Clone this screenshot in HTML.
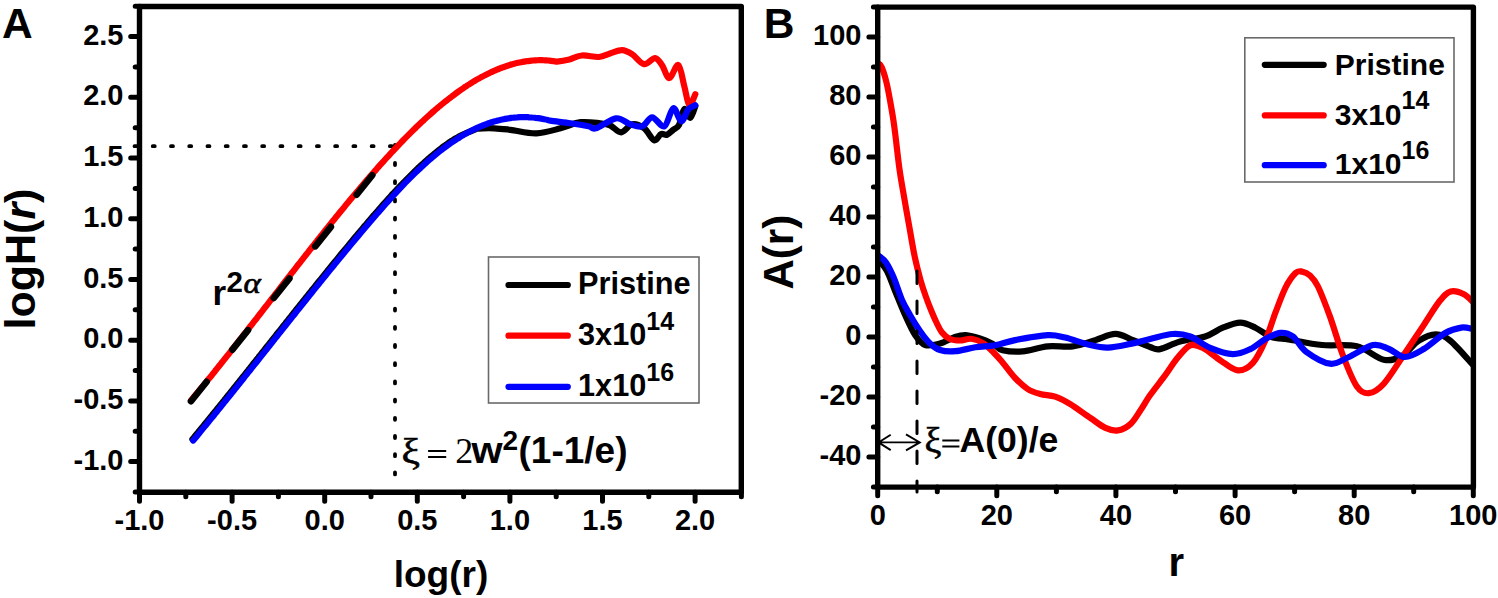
<!DOCTYPE html>
<html><head><meta charset="utf-8"><style>
html,body{margin:0;padding:0;background:#fff;width:1498px;height:598px;overflow:hidden}
svg{display:block}

</style></head><body>
<svg width="1498" height="598" viewBox="0 0 1498 598">
<rect width="1498" height="598" fill="#fff"/>
<text x="2.0" y="38.0" font-size="42.5" text-anchor="start" font-family="'Liberation Sans', sans-serif" font-weight="bold" >A</text>
<text x="763.8" y="37.8" font-size="42.5" text-anchor="start" font-family="'Liberation Sans', sans-serif" font-weight="bold" >B</text>
<text x="123.5" y="44.6" font-size="29.0" text-anchor="end" font-family="'Liberation Sans', sans-serif" font-weight="bold" >2.5</text>
<text x="123.5" y="105.3" font-size="29.0" text-anchor="end" font-family="'Liberation Sans', sans-serif" font-weight="bold" >2.0</text>
<text x="123.5" y="166.0" font-size="29.0" text-anchor="end" font-family="'Liberation Sans', sans-serif" font-weight="bold" >1.5</text>
<text x="123.5" y="226.8" font-size="29.0" text-anchor="end" font-family="'Liberation Sans', sans-serif" font-weight="bold" >1.0</text>
<text x="123.5" y="287.5" font-size="29.0" text-anchor="end" font-family="'Liberation Sans', sans-serif" font-weight="bold" >0.5</text>
<text x="123.5" y="348.2" font-size="29.0" text-anchor="end" font-family="'Liberation Sans', sans-serif" font-weight="bold" >0.0</text>
<text x="123.5" y="408.9" font-size="29.0" text-anchor="end" font-family="'Liberation Sans', sans-serif" font-weight="bold" >-0.5</text>
<text x="123.5" y="469.6" font-size="29.0" text-anchor="end" font-family="'Liberation Sans', sans-serif" font-weight="bold" >-1.0</text>
<text x="139.5" y="529.6" font-size="29.0" text-anchor="middle" font-family="'Liberation Sans', sans-serif" font-weight="bold" >-1.0</text>
<text x="232.1" y="529.6" font-size="29.0" text-anchor="middle" font-family="'Liberation Sans', sans-serif" font-weight="bold" >-0.5</text>
<text x="324.7" y="529.6" font-size="29.0" text-anchor="middle" font-family="'Liberation Sans', sans-serif" font-weight="bold" >0.0</text>
<text x="417.3" y="529.6" font-size="29.0" text-anchor="middle" font-family="'Liberation Sans', sans-serif" font-weight="bold" >0.5</text>
<text x="509.9" y="529.6" font-size="29.0" text-anchor="middle" font-family="'Liberation Sans', sans-serif" font-weight="bold" >1.0</text>
<text x="602.5" y="529.6" font-size="29.0" text-anchor="middle" font-family="'Liberation Sans', sans-serif" font-weight="bold" >1.5</text>
<text x="695.1" y="529.6" font-size="29.0" text-anchor="middle" font-family="'Liberation Sans', sans-serif" font-weight="bold" >2.0</text>
<text x="861.5" y="45.1" font-size="29.0" text-anchor="end" font-family="'Liberation Sans', sans-serif" font-weight="bold" >100</text>
<text x="861.5" y="105.1" font-size="29.0" text-anchor="end" font-family="'Liberation Sans', sans-serif" font-weight="bold" >80</text>
<text x="861.5" y="165.1" font-size="29.0" text-anchor="end" font-family="'Liberation Sans', sans-serif" font-weight="bold" >60</text>
<text x="861.5" y="225.1" font-size="29.0" text-anchor="end" font-family="'Liberation Sans', sans-serif" font-weight="bold" >40</text>
<text x="861.5" y="285.1" font-size="29.0" text-anchor="end" font-family="'Liberation Sans', sans-serif" font-weight="bold" >20</text>
<text x="861.5" y="345.1" font-size="29.0" text-anchor="end" font-family="'Liberation Sans', sans-serif" font-weight="bold" >0</text>
<text x="861.5" y="405.1" font-size="29.0" text-anchor="end" font-family="'Liberation Sans', sans-serif" font-weight="bold" >-20</text>
<text x="861.5" y="465.1" font-size="29.0" text-anchor="end" font-family="'Liberation Sans', sans-serif" font-weight="bold" >-40</text>
<text x="877.7" y="524.5" font-size="29.0" text-anchor="middle" font-family="'Liberation Sans', sans-serif" font-weight="bold" >0</text>
<text x="996.8" y="524.5" font-size="29.0" text-anchor="middle" font-family="'Liberation Sans', sans-serif" font-weight="bold" >20</text>
<text x="1115.9" y="524.5" font-size="29.0" text-anchor="middle" font-family="'Liberation Sans', sans-serif" font-weight="bold" >40</text>
<text x="1235.1" y="524.5" font-size="29.0" text-anchor="middle" font-family="'Liberation Sans', sans-serif" font-weight="bold" >60</text>
<text x="1354.2" y="524.5" font-size="29.0" text-anchor="middle" font-family="'Liberation Sans', sans-serif" font-weight="bold" >80</text>
<text x="1473.3" y="524.5" font-size="29.0" text-anchor="middle" font-family="'Liberation Sans', sans-serif" font-weight="bold" >100</text>
<text transform="translate(35,259) rotate(-90)" font-size="43" text-anchor="middle" font-family="'Liberation Sans', sans-serif" font-weight="bold">logH(<tspan font-style="italic">r</tspan>)</text>
<text transform="translate(793,252.2) rotate(-90)" font-size="42" text-anchor="middle" font-family="'Liberation Sans', sans-serif" font-weight="bold">A(r)</text>
<text x="441.0" y="586.9" font-size="37.0" text-anchor="middle" font-family="'Liberation Sans', sans-serif" font-weight="bold" >log(r)</text>
<text x="1176.3" y="575.7" font-size="40.0" text-anchor="middle" font-family="'Liberation Sans', sans-serif" font-weight="bold" >r</text>
<path d="M135.2,492.0 H139.5 M130.7,461.6 H139.5 M135.2,431.3 H139.5 M130.7,400.9 H139.5 M135.2,370.6 H139.5 M130.7,340.2 H139.5 M135.2,309.8 H139.5 M130.7,279.5 H139.5 M135.2,249.1 H139.5 M130.7,218.8 H139.5 M135.2,188.4 H139.5 M130.7,158.0 H139.5 M135.2,127.7 H139.5 M130.7,97.3 H139.5 M135.2,66.9 H139.5 M130.7,36.6 H139.5 M135.2,6.2 H139.5 M139.5,492.3 V501.2 M185.8,492.3 V496.8 M232.1,492.3 V501.2 M278.4,492.3 V496.8 M324.7,492.3 V501.2 M371.0,492.3 V496.8 M417.3,492.3 V501.2 M463.6,492.3 V496.8 M509.9,492.3 V501.2 M556.2,492.3 V496.8 M602.5,492.3 V501.2 M648.8,492.3 V496.8 M695.1,492.3 V501.2 M741.4,492.3 V496.8" stroke="#000" stroke-width="5.0" stroke-linecap="round" fill="none"/>
<path d="M873.4,487.1 H877.7 M868.9,457.1 H877.7 M873.4,427.1 H877.7 M868.9,397.1 H877.7 M873.4,367.1 H877.7 M868.9,337.1 H877.7 M873.4,307.1 H877.7 M868.9,277.1 H877.7 M873.4,247.1 H877.7 M868.9,217.1 H877.7 M873.4,187.1 H877.7 M868.9,157.1 H877.7 M873.4,127.1 H877.7 M868.9,97.1 H877.7 M873.4,67.1 H877.7 M868.9,37.1 H877.7 M873.4,7.1 H877.7 M877.7,487.1 V495.7 M937.3,487.1 V491.7 M996.8,487.1 V495.7 M1056.4,487.1 V491.7 M1115.9,487.1 V495.7 M1175.5,487.1 V491.7 M1235.1,487.1 V495.7 M1294.6,487.1 V491.7 M1354.2,487.1 V495.7 M1413.7,487.1 V491.7 M1473.3,487.1 V495.7" stroke="#000" stroke-width="5.0" stroke-linecap="round" fill="none"/>
<path d="M134.5,146.2 H398" stroke="#000" stroke-width="3.8" stroke-dasharray="2 16.24" stroke-linecap="round" fill="none"/>
<path d="M395,144.8 V478" stroke="#000" stroke-width="3.8" stroke-dasharray="2 16.2" stroke-linecap="round" fill="none"/>
<path d="M192.4,439.2 C192.9,438.6 194.4,436.8 195.4,435.6 C196.4,434.4 197.4,433.2 198.4,432.0 C199.4,430.7 200.4,429.5 201.4,428.3 C202.4,427.1 203.4,425.9 204.4,424.6 C205.4,423.4 206.4,422.2 207.4,421.0 C208.4,419.7 209.4,418.5 210.4,417.3 C211.4,416.1 212.4,414.8 213.4,413.6 C214.4,412.4 215.4,411.1 216.4,409.9 C217.4,408.7 218.4,407.4 219.4,406.2 C220.4,404.9 221.4,403.7 222.4,402.5 C223.4,401.2 224.4,400.0 225.4,398.7 C226.4,397.5 227.4,396.3 228.4,395.0 C229.4,393.8 230.4,392.5 231.4,391.3 C232.4,390.0 233.4,388.8 234.4,387.5 C235.4,386.3 236.4,385.0 237.4,383.8 C238.4,382.5 239.4,381.3 240.4,380.0 C241.4,378.8 242.4,377.5 243.4,376.2 C244.4,375.0 245.4,373.7 246.4,372.5 C247.4,371.2 248.4,370.0 249.4,368.7 C250.4,367.5 251.4,366.2 252.4,364.9 C253.4,363.7 254.4,362.4 255.4,361.2 C256.4,359.9 257.4,358.6 258.4,357.4 C259.4,356.1 260.4,354.9 261.4,353.6 C262.4,352.3 263.4,351.1 264.4,349.8 C265.4,348.6 266.4,347.3 267.4,346.0 C268.4,344.8 269.4,343.5 270.4,342.3 C271.4,341.0 272.4,339.7 273.4,338.5 C274.4,337.2 275.4,336.0 276.4,334.7 C277.4,333.4 278.4,332.2 279.4,330.9 C280.4,329.7 281.4,328.4 282.4,327.1 C283.4,325.9 284.4,324.6 285.4,323.4 C286.4,322.1 287.4,320.9 288.4,319.6 C289.4,318.3 290.4,317.1 291.4,315.8 C292.4,314.6 293.4,313.3 294.4,312.1 C295.4,310.8 296.4,309.5 297.4,308.3 C298.4,307.0 299.4,305.8 300.4,304.5 C301.4,303.3 302.4,302.0 303.4,300.8 C304.4,299.5 305.4,298.3 306.4,297.0 C307.4,295.8 308.4,294.5 309.4,293.3 C310.4,292.0 311.4,290.8 312.4,289.5 C313.4,288.3 314.4,287.1 315.4,285.8 C316.4,284.6 317.4,283.3 318.4,282.1 C319.4,280.9 320.4,279.6 321.4,278.4 C322.4,277.1 323.4,275.9 324.4,274.7 C325.4,273.4 326.4,272.2 327.4,271.0 C328.4,269.7 329.4,268.5 330.4,267.3 C331.4,266.0 332.4,264.8 333.4,263.6 C334.4,262.4 335.4,261.1 336.4,259.9 C337.4,258.7 338.4,257.5 339.4,256.3 C340.4,255.0 341.4,253.8 342.4,252.6 C343.4,251.4 344.4,250.2 345.4,249.0 C346.4,247.8 347.4,246.6 348.4,245.4 C349.4,244.1 350.4,242.9 351.4,241.7 C352.4,240.5 353.4,239.3 354.4,238.1 C355.4,236.9 356.4,235.8 357.4,234.6 C358.4,233.4 359.4,232.2 360.4,231.0 C361.4,229.8 362.4,228.6 363.4,227.4 C364.4,226.2 365.4,225.1 366.4,223.9 C367.4,222.7 368.4,221.5 369.4,220.4 C370.4,219.2 371.4,218.0 372.4,216.9 C373.4,215.7 374.4,214.6 375.4,213.4 C376.4,212.3 377.4,211.1 378.4,210.0 C379.4,208.8 380.4,207.7 381.4,206.6 C382.4,205.4 383.4,204.3 384.4,203.2 C385.4,202.1 386.4,200.9 387.4,199.8 C388.4,198.7 389.4,197.6 390.4,196.5 C391.4,195.4 392.4,194.3 393.4,193.3 C394.4,192.2 395.4,191.1 396.4,190.0 C397.4,189.0 398.4,187.9 399.4,186.8 C400.4,185.8 401.4,184.7 402.4,183.7 C403.4,182.7 404.4,181.6 405.4,180.6 C406.4,179.6 407.4,178.6 408.4,177.6 C409.4,176.6 410.4,175.6 411.4,174.6 C412.4,173.6 413.4,172.6 414.4,171.6 C415.4,170.7 416.4,169.7 417.4,168.8 C418.4,167.8 419.4,166.9 420.4,165.9 C421.4,165.0 422.4,164.1 423.4,163.2 C424.4,162.3 425.4,161.4 426.4,160.5 C427.4,159.6 428.4,158.7 429.4,157.9 C430.4,157.0 431.4,156.1 432.4,155.3 C433.4,154.5 434.4,153.6 435.4,152.8 C436.4,152.0 437.4,151.2 438.4,150.4 C439.4,149.6 440.4,148.9 441.4,148.1 C442.4,147.3 443.4,146.6 444.4,145.9 C445.4,145.1 446.4,144.4 447.4,143.7 C448.4,143.0 449.4,142.3 450.4,141.7 C451.4,141.0 452.4,140.4 453.4,139.7 C454.4,139.1 455.4,138.5 456.4,137.9 C457.4,137.4 458.4,136.8 459.4,136.3 C460.4,135.8 461.4,135.3 462.4,134.8 C463.4,134.3 464.4,133.9 465.4,133.4 C466.4,133.0 467.4,132.6 468.4,132.2 C469.4,131.8 470.4,131.4 471.4,131.0 C472.4,130.6 473.4,130.2 474.4,129.8 C475.4,129.5 474.1,128.9 477.4,128.7 C480.7,128.4 488.8,128.1 494.3,128.3 C499.8,128.5 503.4,129.0 510.4,129.8 C517.4,130.6 528.0,133.6 536.4,133.3 C544.8,133.1 553.1,130.2 560.5,128.3 C567.9,126.5 574.0,123.0 580.6,122.2 C587.2,121.4 595.2,122.8 600.1,123.3 C605.0,123.8 606.6,123.8 610.1,125.3 C613.6,126.8 617.4,132.5 621.1,132.3 C624.8,132.1 628.4,125.0 632.2,124.3 C636.1,123.6 640.5,125.6 644.2,128.3 C647.9,131.0 651.4,139.4 654.2,140.3 C657.0,141.2 658.9,134.9 661.0,134.0 C663.1,133.1 665.0,135.5 667.0,134.8 C669.0,134.1 671.0,131.6 673.0,130.0 C675.0,128.4 677.1,128.5 679.0,125.0 C680.9,121.5 682.4,110.2 684.3,109.0 C686.2,107.8 688.5,118.3 690.3,117.8 C692.1,117.3 694.5,108.1 695.3,106.2" fill="none" stroke="#000" stroke-width="6.2" stroke-linecap="round" stroke-linejoin="round"/>
<path d="M191.0,400.4 C191.5,399.8 193.0,398.0 194.0,396.8 C195.0,395.6 196.0,394.4 197.0,393.2 C198.0,392.0 199.0,390.8 200.0,389.6 C201.0,388.4 202.0,387.2 203.0,385.9 C204.0,384.7 205.0,383.5 206.0,382.3 C207.0,381.0 208.0,379.8 209.0,378.6 C210.0,377.3 211.0,376.1 212.0,374.9 C213.0,373.6 214.0,372.4 215.0,371.2 C216.0,369.9 217.0,368.7 218.0,367.4 C219.0,366.2 220.0,364.9 221.0,363.7 C222.0,362.4 223.0,361.2 224.0,359.9 C225.0,358.6 226.0,357.4 227.0,356.1 C228.0,354.9 229.0,353.6 230.0,352.3 C231.0,351.1 232.0,349.8 233.0,348.5 C234.0,347.3 235.0,346.0 236.0,344.7 C237.0,343.5 238.0,342.2 239.0,340.9 C240.0,339.6 241.0,338.4 242.0,337.1 C243.0,335.8 244.0,334.5 245.0,333.3 C246.0,332.0 247.0,330.7 248.0,329.4 C249.0,328.1 250.0,326.8 251.0,325.6 C252.0,324.3 253.0,323.0 254.0,321.7 C255.0,320.4 256.0,319.1 257.0,317.9 C258.0,316.6 259.0,315.3 260.0,314.0 C261.0,312.7 262.0,311.4 263.0,310.1 C264.0,308.8 265.0,307.5 266.0,306.3 C267.0,305.0 268.0,303.7 269.0,302.4 C270.0,301.1 271.0,299.8 272.0,298.5 C273.0,297.2 274.0,295.9 275.0,294.6 C276.0,293.4 277.0,292.1 278.0,290.8 C279.0,289.5 280.0,288.2 281.0,286.9 C282.0,285.6 283.0,284.3 284.0,283.0 C285.0,281.8 286.0,280.5 287.0,279.2 C288.0,277.9 289.0,276.6 290.0,275.3 C291.0,274.0 292.0,272.7 293.0,271.5 C294.0,270.2 295.0,268.9 296.0,267.6 C297.0,266.3 298.0,265.0 299.0,263.8 C300.0,262.5 301.0,261.2 302.0,259.9 C303.0,258.7 304.0,257.4 305.0,256.1 C306.0,254.8 307.0,253.6 308.0,252.3 C309.0,251.0 310.0,249.7 311.0,248.5 C312.0,247.2 313.0,245.9 314.0,244.7 C315.0,243.4 316.0,242.1 317.0,240.9 C318.0,239.6 319.0,238.4 320.0,237.1 C321.0,235.8 322.0,234.6 323.0,233.3 C324.0,232.1 325.0,230.8 326.0,229.6 C327.0,228.3 328.0,227.1 329.0,225.8 C330.0,224.6 331.0,223.4 332.0,222.1 C333.0,220.9 334.0,219.6 335.0,218.4 C336.0,217.2 337.0,215.9 338.0,214.7 C339.0,213.5 340.0,212.3 341.0,211.0 C342.0,209.8 343.0,208.6 344.0,207.4 C345.0,206.2 346.0,205.0 347.0,203.7 C348.0,202.5 349.0,201.3 350.0,200.1 C351.0,198.9 352.0,197.7 353.0,196.5 C354.0,195.3 355.0,194.1 356.0,192.9 C357.0,191.8 358.0,190.6 359.0,189.4 C360.0,188.2 361.0,187.0 362.0,185.9 C363.0,184.7 364.0,183.5 365.0,182.3 C366.0,181.2 367.0,180.0 368.0,178.9 C369.0,177.7 370.0,176.5 371.0,175.4 C372.0,174.3 373.0,173.1 374.0,172.0 C375.0,170.8 376.0,169.7 377.0,168.6 C378.0,167.4 379.0,166.3 380.0,165.2 C381.0,164.1 382.0,163.0 383.0,161.9 C384.0,160.7 385.0,159.6 386.0,158.5 C387.0,157.4 388.0,156.4 389.0,155.3 C390.0,154.2 391.0,153.1 392.0,152.0 C393.0,151.0 394.0,149.9 395.0,148.8 C396.0,147.8 397.0,146.7 398.0,145.7 C399.0,144.6 400.0,143.6 401.0,142.5 C402.0,141.5 403.0,140.5 404.0,139.4 C405.0,138.4 406.0,137.4 407.0,136.4 C408.0,135.4 409.0,134.4 410.0,133.4 C411.0,132.4 412.0,131.4 413.0,130.4 C414.0,129.4 415.0,128.5 416.0,127.5 C417.0,126.5 418.0,125.6 419.0,124.6 C420.0,123.7 421.0,122.7 422.0,121.8 C423.0,120.9 424.0,119.9 425.0,119.0 C426.0,118.1 427.0,117.2 428.0,116.3 C429.0,115.4 430.0,114.5 431.0,113.6 C432.0,112.7 433.0,111.8 434.0,111.0 C435.0,110.1 436.0,109.2 437.0,108.4 C438.0,107.5 439.0,106.7 440.0,105.9 C441.0,105.0 442.0,104.2 443.0,103.4 C444.0,102.6 445.0,101.8 446.0,101.0 C447.0,100.2 448.0,99.4 449.0,98.6 C450.0,97.8 451.0,97.1 452.0,96.3 C453.0,95.6 454.0,94.8 455.0,94.1 C456.0,93.3 457.0,92.6 458.0,91.9 C459.0,91.2 460.0,90.5 461.0,89.8 C462.0,89.1 463.0,88.4 464.0,87.7 C465.0,87.0 466.0,86.4 467.0,85.7 C468.0,85.1 469.0,84.4 470.0,83.8 C471.0,83.2 472.0,82.5 473.0,81.9 C474.0,81.3 475.0,80.7 476.0,80.1 C477.0,79.6 478.0,79.0 479.0,78.4 C480.0,77.9 481.0,77.3 482.0,76.8 C483.0,76.2 484.0,75.7 485.0,75.2 C486.0,74.7 487.0,74.2 488.0,73.7 C489.0,73.2 490.0,72.7 491.0,72.2 C492.0,71.8 493.0,71.3 494.0,70.9 C495.0,70.4 496.0,70.0 497.0,69.6 C498.0,69.2 499.0,68.8 500.0,68.4 C501.0,68.0 502.0,67.6 503.0,67.3 C504.0,66.9 505.0,66.5 506.0,66.2 C507.0,65.9 508.0,65.5 509.0,65.2 C510.0,64.9 511.0,64.6 512.0,64.4 C513.0,64.1 514.0,63.8 515.0,63.5 C516.0,63.3 517.0,63.1 518.0,62.8 C519.0,62.6 520.0,62.4 521.0,62.2 C522.0,62.0 523.0,61.8 524.0,61.6 C525.0,61.5 526.0,61.3 527.0,61.2 C528.0,61.0 529.0,60.9 530.0,60.8 C531.0,60.7 532.0,60.6 533.0,60.5 C534.0,60.4 535.0,60.4 536.0,60.3 C537.0,60.3 538.0,60.2 539.0,60.2 C540.0,60.2 541.0,60.2 542.0,60.2 C543.0,60.2 544.0,60.3 545.0,60.3 C546.0,60.4 547.0,60.4 548.0,60.5 C549.0,60.6 550.0,60.7 551.0,60.8 C552.0,60.9 553.0,61.0 554.0,61.2 C555.0,61.3 554.4,61.9 557.0,61.6 C559.6,61.3 565.2,60.4 569.4,59.4 C573.6,58.4 577.1,55.9 582.0,55.5 C586.9,55.1 594.3,57.3 599.0,57.0 C603.7,56.7 606.2,54.6 610.0,53.5 C613.8,52.4 618.3,50.0 622.0,50.1 C625.7,50.2 628.3,51.8 632.0,54.1 C635.7,56.4 640.2,63.4 644.0,64.1 C647.8,64.8 652.0,57.9 655.0,58.1 C658.0,58.3 659.6,61.8 662.0,65.1 C664.4,68.4 666.6,78.1 669.3,78.1 C672.0,78.1 675.8,63.7 678.3,65.1 C680.8,66.4 682.5,79.5 684.3,86.2 C686.1,92.9 687.5,103.9 689.3,105.2 C691.1,106.5 694.3,96.0 695.3,94.2" fill="none" stroke="#f00" stroke-width="6.2" stroke-linecap="round" stroke-linejoin="round"/>
<path d="M193.2,440.5 C193.7,439.9 195.2,438.1 196.2,436.9 C197.2,435.7 198.2,434.5 199.2,433.3 C200.2,432.0 201.2,430.8 202.2,429.6 C203.2,428.4 204.2,427.2 205.2,425.9 C206.2,424.7 207.2,423.5 208.2,422.3 C209.2,421.0 210.2,419.8 211.2,418.6 C212.2,417.4 213.2,416.1 214.2,414.9 C215.2,413.7 216.2,412.4 217.2,411.2 C218.2,410.0 219.2,408.7 220.2,407.5 C221.2,406.2 222.2,405.0 223.2,403.8 C224.2,402.5 225.2,401.3 226.2,400.0 C227.2,398.8 228.2,397.6 229.2,396.3 C230.2,395.1 231.2,393.8 232.2,392.6 C233.2,391.3 234.2,390.1 235.2,388.8 C236.2,387.6 237.2,386.3 238.2,385.1 C239.2,383.8 240.2,382.6 241.2,381.3 C242.2,380.1 243.2,378.8 244.2,377.5 C245.2,376.3 246.2,375.0 247.2,373.8 C248.2,372.5 249.2,371.3 250.2,370.0 C251.2,368.8 252.2,367.5 253.2,366.2 C254.2,365.0 255.2,363.7 256.2,362.5 C257.2,361.2 258.2,359.9 259.2,358.7 C260.2,357.4 261.2,356.2 262.2,354.9 C263.2,353.6 264.2,352.4 265.2,351.1 C266.2,349.9 267.2,348.6 268.2,347.3 C269.2,346.1 270.2,344.8 271.2,343.6 C272.2,342.3 273.2,341.0 274.2,339.8 C275.2,338.5 276.2,337.3 277.2,336.0 C278.2,334.7 279.2,333.5 280.2,332.2 C281.2,331.0 282.2,329.7 283.2,328.4 C284.2,327.2 285.2,325.9 286.2,324.7 C287.2,323.4 288.2,322.2 289.2,320.9 C290.2,319.6 291.2,318.4 292.2,317.1 C293.2,315.9 294.2,314.6 295.2,313.4 C296.2,312.1 297.2,310.8 298.2,309.6 C299.2,308.3 300.2,307.1 301.2,305.8 C302.2,304.6 303.2,303.3 304.2,302.1 C305.2,300.8 306.2,299.6 307.2,298.3 C308.2,297.1 309.2,295.8 310.2,294.6 C311.2,293.3 312.2,292.1 313.2,290.8 C314.2,289.6 315.2,288.4 316.2,287.1 C317.2,285.9 318.2,284.6 319.2,283.4 C320.2,282.2 321.2,280.9 322.2,279.7 C323.2,278.4 324.2,277.2 325.2,276.0 C326.2,274.7 327.2,273.5 328.2,272.3 C329.2,271.0 330.2,269.8 331.2,268.6 C332.2,267.3 333.2,266.1 334.2,264.9 C335.2,263.7 336.2,262.4 337.2,261.2 C338.2,260.0 339.2,258.8 340.2,257.6 C341.2,256.3 342.2,255.1 343.2,253.9 C344.2,252.7 345.2,251.5 346.2,250.3 C347.2,249.1 348.2,247.9 349.2,246.7 C350.2,245.4 351.2,244.2 352.2,243.0 C353.2,241.8 354.2,240.6 355.2,239.4 C356.2,238.2 357.2,237.1 358.2,235.9 C359.2,234.7 360.2,233.5 361.2,232.3 C362.2,231.1 363.2,229.9 364.2,228.7 C365.2,227.5 366.2,226.4 367.2,225.2 C368.2,224.0 369.2,222.8 370.2,221.7 C371.2,220.5 372.2,219.3 373.2,218.2 C374.2,217.0 375.2,215.9 376.2,214.7 C377.2,213.6 378.2,212.4 379.2,211.3 C380.2,210.1 381.2,209.0 382.2,207.9 C383.2,206.7 384.2,205.6 385.2,204.5 C386.2,203.4 387.2,202.2 388.2,201.1 C389.2,200.0 390.2,198.9 391.2,197.8 C392.2,196.7 393.2,195.6 394.2,194.6 C395.2,193.5 396.2,192.4 397.2,191.3 C398.2,190.3 399.2,189.2 400.2,188.1 C401.2,187.1 402.2,186.0 403.2,185.0 C404.2,184.0 405.2,182.9 406.2,181.9 C407.2,180.9 408.2,179.9 409.2,178.9 C410.2,177.9 411.2,176.9 412.2,175.9 C413.2,174.9 414.2,173.9 415.2,172.9 C416.2,172.0 417.2,171.0 418.2,170.1 C419.2,169.1 420.2,168.2 421.2,167.2 C422.2,166.3 423.2,165.4 424.2,164.5 C425.2,163.6 426.2,162.7 427.2,161.8 C428.2,160.9 429.2,160.0 430.2,159.2 C431.2,158.3 432.2,157.4 433.2,156.6 C434.2,155.8 435.2,154.9 436.2,154.1 C437.2,153.3 438.2,152.5 439.2,151.7 C440.2,150.9 441.2,150.1 442.2,149.4 C443.2,148.6 444.2,147.8 445.2,147.1 C446.2,146.3 447.2,145.6 448.2,144.9 C449.2,144.2 450.2,143.5 451.2,142.8 C452.2,142.1 453.2,141.4 454.2,140.8 C455.2,140.1 456.2,139.5 457.2,138.8 C458.2,138.2 459.2,137.6 460.2,136.9 C461.2,136.3 462.2,135.7 463.2,135.2 C464.2,134.6 465.2,134.0 466.2,133.5 C467.2,132.9 468.2,132.4 469.2,131.8 C470.2,131.3 471.2,130.8 472.2,130.3 C473.2,129.8 474.2,129.3 475.2,128.8 C476.2,128.4 477.2,127.9 478.2,127.5 C479.2,127.0 480.2,126.6 481.2,126.2 C482.2,125.7 483.2,125.3 484.2,125.0 C485.2,124.6 486.2,124.2 487.2,123.8 C488.2,123.5 489.2,123.1 490.2,122.8 C491.2,122.5 492.2,122.1 493.2,121.8 C494.2,121.5 495.2,121.2 496.2,121.0 C497.2,120.7 498.2,120.4 499.2,120.2 C500.2,119.9 501.2,119.7 502.2,119.5 C503.2,119.3 504.2,119.1 505.2,118.9 C506.2,118.7 507.2,118.5 508.2,118.4 C509.2,118.2 510.2,118.1 511.2,117.9 C512.2,117.8 513.2,117.7 514.2,117.6 C515.2,117.5 516.2,117.4 517.2,117.4 C518.2,117.3 519.2,117.2 520.2,117.2 C521.2,117.2 522.2,117.1 523.2,117.1 C524.2,117.1 525.2,117.1 526.2,117.1 C527.2,117.2 528.2,117.2 529.2,117.3 C530.2,117.3 531.2,117.4 532.2,117.5 C533.2,117.5 534.2,117.6 535.2,117.8 C536.2,117.9 537.2,118.0 538.2,118.1 C539.2,118.3 540.2,118.5 541.2,118.6 C542.2,118.8 543.2,119.0 544.2,119.2 C545.2,119.4 546.2,119.6 547.2,119.9 C548.2,120.1 546.3,120.1 550.2,120.6 C554.1,121.2 564.1,122.3 570.5,123.2 C576.9,124.1 584.4,125.4 588.6,126.3 C592.9,127.2 591.4,129.6 596.0,128.3 C600.6,127.0 610.4,119.0 616.1,118.3 C621.8,117.6 625.9,123.0 630.2,124.3 C634.6,125.6 638.5,127.5 642.2,126.3 C645.9,125.1 648.5,117.3 652.2,117.3 C655.9,117.3 660.8,127.8 664.3,126.3 C667.8,124.8 670.5,109.0 673.3,108.2 C676.1,107.4 678.8,121.1 681.3,121.3 C683.8,121.5 686.0,111.9 688.3,109.2 C690.6,106.5 694.1,105.9 695.3,105.2" fill="none" stroke="#00f" stroke-width="6.2" stroke-linecap="round" stroke-linejoin="round"/>
<path d="M191.0,401.3 L396.5,145.0" stroke="#000" stroke-width="6.6" stroke-dasharray="25 41.2" stroke-linecap="round" fill="none"/>
<text x="212.5" y="304.6" font-size="35" font-family="'Liberation Sans', sans-serif" font-weight="bold">r</text>
<text x="226.5" y="292.4" font-size="29.5" font-family="'Liberation Sans', sans-serif" font-weight="bold">2</text>
<text transform="translate(243.5,293.1) scale(1.1,1)" font-size="30" font-family="'Liberation Serif', serif" font-style="italic" stroke="#000" stroke-width="0.7">&#945;</text>
<text transform="translate(401.5,462.8) scale(1.18,1)" font-size="35" font-family="'Liberation Serif', serif" stroke="#000" stroke-width="0.6">&#958;</text>
<path d="M428.1,451.1 H446.2 M428.1,457.1 H446.2" stroke="#000" stroke-width="2"/>
<text x="455.3" y="462.7" font-size="36" font-family="'Liberation Serif', serif">2</text>
<text transform="translate(471.5,462.6) scale(1.08,1)" font-size="37" font-family="'Liberation Sans', sans-serif" font-weight="bold">w</text>
<text x="502.5" y="450" font-size="28" font-family="'Liberation Sans', sans-serif" font-weight="bold">2</text>
<text x="518.5" y="462.6" font-size="37" font-family="'Liberation Sans', sans-serif" font-weight="bold">(1-1/e)</text>
<rect x="488.5" y="257.0" width="210.5" height="146.0" fill="#fff" stroke="#6a6a6a" stroke-width="1.6"/>
<path d="M508.5,285.0 H567.8" stroke="#000" stroke-width="6.2" stroke-linecap="round"/>
<path d="M508.5,335.7 H567.8" stroke="#f00" stroke-width="6.2" stroke-linecap="round"/>
<path d="M508.5,386.8 H567.8" stroke="#00f" stroke-width="6.2" stroke-linecap="round"/>
<text x="578.0" y="294.3" font-size="30.7" font-family="'Liberation Sans', sans-serif" font-weight="bold">Pristine</text>
<text x="578.0" y="345.2" font-size="30.7" font-family="'Liberation Sans', sans-serif" font-weight="bold">3x10<tspan font-size="25" dy="-15.6">14</tspan></text>
<text x="578.0" y="396.1" font-size="30.7" font-family="'Liberation Sans', sans-serif" font-weight="bold">1x10<tspan font-size="25" dy="-15.6">16</tspan></text>
<defs><clipPath id="cb"><rect x="877.7" y="0" width="595.7" height="598"/></clipPath></defs>
<g clip-path="url(#cb)">
<path d="M879.0,260.0 C880.3,261.9 884.3,265.9 887.0,271.1 C889.7,276.3 892.1,283.7 895.1,291.0 C898.1,298.3 901.8,307.7 905.1,315.0 C908.4,322.3 911.8,330.0 915.1,335.0 C918.5,340.0 921.1,343.6 925.2,345.0 C929.4,346.4 935.0,344.8 940.0,343.5 C945.0,342.2 950.5,338.4 955.0,337.0 C959.5,335.6 962.2,334.8 967.3,335.3 C972.4,335.9 980.8,338.6 985.4,340.3 C990.0,342.0 992.1,343.7 995.0,345.3 C997.9,346.9 997.9,349.2 1002.5,350.2 C1007.1,351.2 1015.1,352.0 1022.6,351.4 C1030.1,350.8 1039.3,347.2 1047.7,346.4 C1056.1,345.6 1064.9,347.4 1072.8,346.4 C1080.7,345.3 1088.2,342.2 1095.3,340.1 C1102.4,338.0 1109.1,333.9 1115.4,333.9 C1121.7,333.9 1127.2,337.9 1133.0,340.1 C1138.8,342.3 1145.5,345.5 1150.0,347.0 C1154.5,348.5 1155.1,350.0 1160.1,349.1 C1165.1,348.2 1172.6,343.6 1180.1,341.5 C1187.6,339.4 1198.1,338.8 1205.2,336.5 C1212.3,334.2 1217.0,330.0 1222.8,327.7 C1228.6,325.4 1234.9,322.7 1240.3,322.7 C1245.7,322.7 1250.4,325.4 1255.4,327.7 C1260.4,330.0 1265.4,334.6 1270.4,336.5 C1275.4,338.4 1282.2,338.5 1285.5,339.0 C1288.8,339.5 1283.9,338.6 1290.0,339.6 C1296.1,340.6 1310.9,343.9 1322.1,345.0 C1333.2,346.1 1346.6,343.9 1356.9,346.3 C1367.2,348.8 1376.1,358.1 1383.7,359.7 C1391.3,361.3 1396.6,358.8 1402.4,355.7 C1408.2,352.6 1412.8,344.6 1418.4,341.0 C1424.0,337.4 1430.4,334.3 1435.8,334.3 C1441.2,334.3 1444.4,335.9 1450.6,341.0 C1456.8,346.1 1469.3,361.0 1473.0,365.0" fill="none" stroke="#000" stroke-width="6.2" stroke-linecap="round" stroke-linejoin="round"/>
<path d="M877.0,63.8 C877.5,63.9 879.0,63.3 880.0,64.5 C881.0,65.7 882.2,68.0 883.3,71.2 C884.4,74.4 885.6,78.6 886.7,83.4 C887.8,88.2 888.9,94.1 890.0,100.2 C891.1,106.3 892.4,113.5 893.4,120.2 C894.4,126.9 895.0,132.0 896.0,140.3 C897.0,148.6 898.2,160.1 899.6,170.0 C901.0,179.9 902.9,190.0 904.6,200.0 C906.3,210.0 908.2,220.3 909.9,230.0 C911.6,239.7 913.2,249.7 915.0,258.0 C916.8,266.3 918.7,273.5 920.5,280.0 C922.3,286.5 924.2,292.0 926.0,297.0 C927.8,302.0 929.3,305.9 931.0,310.0 C932.7,314.1 934.2,317.8 936.0,321.5 C937.8,325.2 939.7,329.6 942.0,332.5 C944.3,335.4 947.0,337.7 950.0,339.0 C953.0,340.3 956.5,340.5 960.0,340.5 C963.5,340.5 967.4,338.3 971.3,338.8 C975.2,339.3 979.4,340.8 983.4,343.3 C987.4,345.8 991.7,350.7 995.0,354.0 C998.3,357.3 999.6,359.0 1003.0,363.0 C1006.4,367.0 1011.0,373.7 1015.1,378.0 C1019.2,382.3 1023.4,386.3 1027.6,389.0 C1031.8,391.7 1035.6,392.7 1040.2,394.0 C1044.8,395.3 1050.2,394.9 1055.2,396.6 C1060.2,398.3 1064.5,400.6 1070.3,404.1 C1076.1,407.7 1084.4,413.9 1090.3,417.9 C1096.2,421.9 1100.8,425.8 1105.4,427.9 C1110.0,430.0 1113.7,431.0 1117.9,430.4 C1122.1,429.8 1126.6,427.5 1130.4,424.1 C1134.2,420.8 1137.2,415.1 1140.5,410.3 C1143.8,405.5 1145.9,401.1 1150.0,395.3 C1154.1,389.5 1160.5,381.6 1165.1,375.4 C1169.7,369.1 1173.4,362.8 1177.6,357.8 C1181.8,352.8 1186.0,347.0 1190.2,345.3 C1194.4,343.6 1197.7,345.3 1202.7,347.8 C1207.7,350.3 1214.5,356.5 1220.3,360.3 C1226.1,364.1 1232.4,370.0 1237.8,370.4 C1243.2,370.8 1248.3,367.9 1252.9,362.9 C1257.5,357.9 1261.7,348.7 1265.4,340.3 C1269.2,331.9 1272.1,321.5 1275.4,312.7 C1278.8,303.9 1282.2,294.2 1285.5,287.6 C1288.8,281.0 1292.8,275.7 1295.5,273.0 C1298.2,270.3 1299.6,271.2 1302.0,271.6 C1304.4,272.0 1307.3,273.0 1310.0,275.5 C1312.7,278.0 1314.7,279.6 1318.0,286.5 C1321.3,293.4 1325.8,305.1 1330.1,316.9 C1334.3,328.6 1339.0,345.4 1343.5,357.0 C1348.0,368.6 1352.7,380.5 1356.9,386.5 C1361.1,392.5 1364.4,393.6 1368.9,393.2 C1373.4,392.8 1378.1,389.8 1383.7,383.8 C1389.3,377.8 1395.7,366.8 1402.4,357.0 C1409.1,347.2 1417.5,334.3 1423.8,324.9 C1430.0,315.5 1435.4,306.4 1439.9,300.8 C1444.4,295.2 1446.6,292.6 1450.6,291.5 C1454.6,290.4 1460.2,292.4 1463.9,294.2 C1467.6,295.9 1471.5,300.7 1473.0,302.0" fill="none" stroke="#f00" stroke-width="6.2" stroke-linecap="round" stroke-linejoin="round"/>
<path d="M879.0,256.0 C880.2,257.1 883.6,259.0 886.0,262.5 C888.4,266.0 890.8,270.8 893.5,277.0 C896.2,283.2 899.2,293.7 902.0,300.0 C904.8,306.3 907.0,309.8 910.0,315.0 C913.0,320.2 916.7,326.2 920.0,331.0 C923.3,335.8 926.7,340.3 930.0,343.5 C933.3,346.7 935.8,348.7 940.0,350.0 C944.2,351.3 949.4,351.6 955.3,351.2 C961.2,350.8 968.7,348.3 975.3,347.3 C981.9,346.3 988.4,346.5 995.0,345.3 C1001.6,344.1 1006.3,341.8 1015.1,340.1 C1023.9,338.4 1039.4,335.5 1047.7,335.1 C1056.0,334.7 1058.1,335.9 1065.2,337.6 C1072.3,339.3 1083.2,343.4 1090.3,345.1 C1097.4,346.8 1101.2,347.8 1107.9,347.6 C1114.6,347.4 1123.4,345.3 1130.4,343.9 C1137.4,342.5 1143.0,340.6 1150.0,339.0 C1157.0,337.4 1165.9,334.4 1172.6,334.0 C1179.3,333.6 1183.9,334.2 1190.2,336.5 C1196.5,338.8 1203.1,344.9 1210.2,347.8 C1217.3,350.7 1226.1,353.9 1232.8,354.1 C1239.5,354.3 1244.9,351.6 1250.3,349.1 C1255.7,346.6 1260.4,341.7 1265.4,339.0 C1270.4,336.3 1275.8,333.2 1280.4,332.8 C1285.0,332.4 1288.7,333.4 1293.0,336.5 C1297.3,339.6 1299.9,347.2 1306.1,351.7 C1312.3,356.2 1323.0,362.8 1330.1,363.7 C1337.2,364.6 1341.8,360.1 1348.9,357.0 C1356.1,353.9 1366.3,346.3 1373.0,345.0 C1379.7,343.7 1383.7,347.0 1389.0,349.0 C1394.3,351.0 1399.3,357.0 1405.1,357.0 C1410.9,357.0 1417.1,353.0 1423.8,349.0 C1430.5,345.0 1439.0,336.6 1445.2,333.0 C1451.5,329.4 1456.7,328.3 1461.3,327.6 C1465.9,326.9 1471.0,328.8 1473.0,329.0" fill="none" stroke="#00f" stroke-width="6.2" stroke-linecap="round" stroke-linejoin="round"/>
</g>
<path d="M917,271 V492" stroke="#000" stroke-width="3" stroke-dasharray="12.4 17.6" stroke-linecap="round" fill="none"/>
<path d="M139.5,6.5 H741.3 V492.3 H139.5 Z" fill="none" stroke="#000" stroke-width="5.4" stroke-linejoin="round"/>
<path d="M877.7,7.1 H1473.4 V487.1 H877.7 Z" fill="none" stroke="#000" stroke-width="5.4" stroke-linejoin="round"/>
<path d="M878,442.4 H919.5 M890.7,434.7 L878.5,442.4 L890.7,450.1 M906,434.4 L919.8,442.4 L906,450.4" stroke="#000" stroke-width="1.9" fill="none"/>
<text transform="translate(924.5,451.9) scale(1.08,1)" font-size="35" font-family="'Liberation Serif', serif" stroke="#000" stroke-width="0.6">&#958;</text>
<path d="M942.3,440.4 H959.4 M942.3,446.4 H959.4" stroke="#000" stroke-width="2"/>
<text x="959.5" y="451.7" font-size="35.6" font-family="'Liberation Sans', sans-serif" font-weight="bold">A(0)/e</text>
<rect x="1244.8" y="37.8" width="209.2" height="144.2" fill="#fff" stroke="#6a6a6a" stroke-width="1.6"/>
<path d="M1264.8,64.8 H1323.7" stroke="#000" stroke-width="6.2" stroke-linecap="round"/>
<path d="M1264.8,115.4 H1323.7" stroke="#f00" stroke-width="6.2" stroke-linecap="round"/>
<path d="M1264.8,165.2 H1323.7" stroke="#00f" stroke-width="6.2" stroke-linecap="round"/>
<text x="1334.8" y="74.8" font-size="30.0" font-family="'Liberation Sans', sans-serif" font-weight="bold">Pristine</text>
<text x="1334.8" y="124.5" font-size="30.0" font-family="'Liberation Sans', sans-serif" font-weight="bold">3x10<tspan font-size="25" dy="-15.6">14</tspan></text>
<text x="1334.8" y="174.3" font-size="30.0" font-family="'Liberation Sans', sans-serif" font-weight="bold">1x10<tspan font-size="25" dy="-15.6">16</tspan></text>
</svg>
</body></html>
